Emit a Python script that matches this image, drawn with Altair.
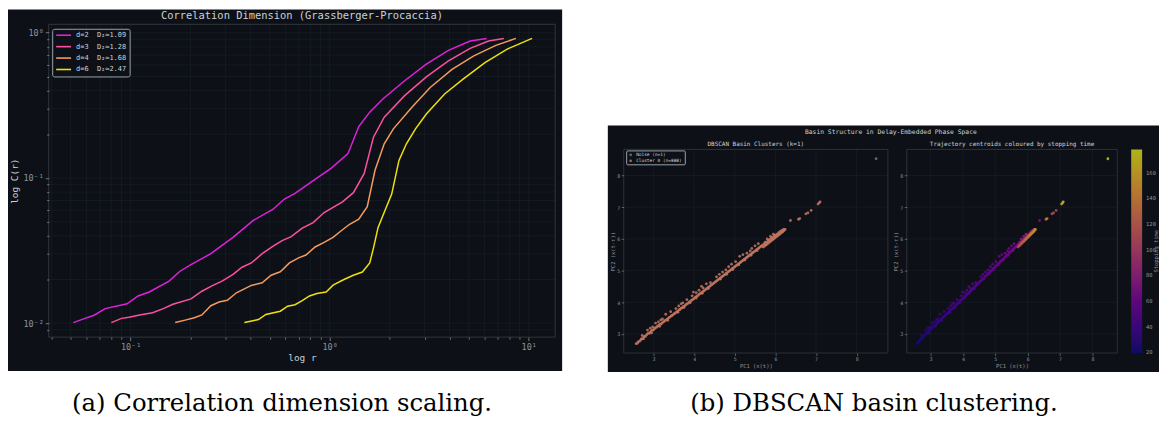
import altair as alt
import pandas as pd

# ---------------- panel (a): correlation sums ----------------
D2_R = [0.0515, 0.059, 0.0656, 0.0745, 0.096, 0.109, 0.124, 0.156, 0.177, 0.201, 0.253, 0.288, 0.327,
        0.412, 0.52, 0.59, 0.67, 0.81, 1.02, 1.236, 1.40, 1.59, 1.85, 2.38, 3.06, 3.95, 5.08, 6.15]
D2_C = [0.0101, 0.0108, 0.01135, 0.0126, 0.0136, 0.0154, 0.0164, 0.0195, 0.0228, 0.0253, 0.0301, 0.0344,
        0.039, 0.0509, 0.0609, 0.0713, 0.0783, 0.094, 0.117, 0.147, 0.226, 0.284, 0.35, 0.467, 0.607,
        0.757, 0.877, 0.914]
D3_R = [0.08, 0.09, 0.098, 0.111, 0.129, 0.146, 0.163, 0.201, 0.228, 0.259, 0.288, 0.327, 0.363, 0.404,
        0.458, 0.52, 0.577, 0.641, 0.728, 0.826, 0.938, 1.16, 1.316, 1.49, 1.66, 1.88, 2.38, 3.06, 3.95,
        5.08, 6.28, 7.5]
D3_C = [0.0101, 0.0108, 0.011, 0.0114, 0.0118, 0.0126, 0.0135, 0.0147, 0.0166, 0.0182, 0.0195, 0.0217,
        0.0243, 0.026, 0.0301, 0.034, 0.037, 0.0395, 0.0452, 0.0493, 0.0578, 0.0685, 0.0792, 0.107,
        0.191, 0.262, 0.369, 0.497, 0.64, 0.781, 0.877, 0.914]
D4_R = [0.1675, 0.188, 0.209, 0.228, 0.253, 0.278, 0.306, 0.34, 0.404, 0.458, 0.508, 0.565, 0.628, 0.698,
        0.76, 0.845, 0.938, 1.04, 1.135, 1.26, 1.40, 1.545, 1.69, 1.88, 2.09, 2.59, 3.2, 4.12, 5.3,
        6.84, 8.63]
D4_C = [0.0101, 0.0105, 0.0109, 0.0114, 0.0132, 0.014, 0.0144, 0.0162, 0.0182, 0.019, 0.0214, 0.0226,
        0.026, 0.0282, 0.0295, 0.0335, 0.036, 0.039, 0.043, 0.048, 0.052, 0.0635, 0.113, 0.172, 0.218,
        0.307, 0.42, 0.56, 0.693, 0.819, 0.914]
D6_R = [0.373, 0.412, 0.439, 0.478, 0.565, 0.615, 0.67, 0.728, 0.792, 0.863, 0.96, 1.04, 1.18, 1.315,
        1.46, 1.59, 1.66, 1.75, 1.885, 2.05, 2.23, 2.43, 2.70, 3.06, 3.78, 4.68, 6.03, 7.76, 10.4]
D6_C = [0.0101, 0.0104, 0.0106, 0.0115, 0.0121, 0.0131, 0.0134, 0.0143, 0.0154, 0.016, 0.0164, 0.0183,
        0.02, 0.0214, 0.0225, 0.026, 0.0329, 0.0455, 0.0585, 0.0775, 0.132, 0.172, 0.218, 0.276, 0.379,
        0.479, 0.623, 0.769, 0.914]
SERIES = ["d=2\u00a0\u00a0D₂≈1.09", "d=3\u00a0\u00a0D₂≈1.28", "d=4\u00a0\u00a0D₂≈1.68", "d=6\u00a0\u00a0D₂≈2.47"]
SERIES_COLORS = ["#e020dc", "#ff4fa0", "#f59b5e", "#f0e010"]
XA_MAJOR = [0.1, 1, 10]
XA_MINOR = [0.04, 0.05, 0.06, 0.07, 0.08, 0.09, 0.2, 0.3, 0.4, 0.5, 0.6, 0.7, 0.8, 0.9, 2, 3, 4, 5, 6, 7, 8, 9]
YA_MAJOR = [0.01, 0.1, 1]
YA_MINOR = [0.009, 0.02, 0.03, 0.04, 0.05, 0.06, 0.07, 0.08, 0.09, 0.2, 0.3, 0.4, 0.5, 0.6, 0.7, 0.8, 0.9]
XA_DOMAIN = [0.03877, 13.59]
YA_DOMAIN = [0.008021, 1.143]

# ---------------- panel (b): delay-embedded centroids (pc1, pc2, stopping time) ----------------
SEG_A = [(2.57, 2.69, 22), (2.60, 2.70, 23), (2.62, 2.75, 24), (2.65, 2.76, 23), (2.68, 2.80, 25),
         (2.70, 2.84, 24), (2.73, 2.85, 26), (2.76, 2.90, 25), (2.78, 2.93, 27), (2.80, 2.92, 26),
         (2.83, 2.97, 28), (2.85, 3.00, 27), (2.88, 3.03, 28), (2.90, 3.02, 27), (2.93, 3.07, 29),
         (2.95, 3.10, 28), (2.98, 3.12, 30), (3.00, 3.13, 29), (3.03, 3.17, 30), (3.05, 3.20, 31),
         (3.08, 3.21, 30), (3.10, 3.25, 31), (3.13, 3.26, 32), (3.15, 3.30, 31), (3.18, 3.31, 33),
         (3.20, 3.33, 32), (3.23, 3.37, 33), (3.25, 3.38, 34), (3.28, 3.42, 33), (3.30, 3.43, 34),
         (3.33, 3.46, 35), (3.35, 3.48, 34), (3.38, 3.51, 35), (3.40, 3.53, 36), (3.43, 3.56, 35),
         (3.45, 3.58, 36), (3.48, 3.60, 37)]
SEG_A_UP = [(2.72, 2.95, 28), (2.85, 3.12, 30), (2.98, 3.22, 31), (3.05, 3.34, 33), (3.12, 3.38, 32),
            (3.22, 3.47, 35), (3.30, 3.62, 36), (3.42, 3.70, 37), (2.92, 3.18, 30), (3.18, 3.44, 33)]
SEG_A_LOW = [(2.75, 2.84, 25), (2.95, 3.03, 28), (3.15, 3.24, 31), (3.35, 3.43, 34)]
SEG_B = [(3.50, 3.63, 37), (3.53, 3.65, 36), (3.55, 3.68, 38), (3.58, 3.70, 37), (3.60, 3.72, 38),
         (3.63, 3.76, 39), (3.65, 3.77, 38), (3.68, 3.81, 39), (3.70, 3.82, 40), (3.73, 3.86, 39),
         (3.75, 3.87, 40), (3.78, 3.90, 41), (3.80, 3.93, 40), (3.83, 3.95, 41), (3.85, 3.97, 42),
         (3.88, 4.01, 41), (3.90, 4.02, 42), (3.93, 4.06, 43), (3.95, 4.07, 42), (3.98, 4.10, 43),
         (4.00, 4.12, 44), (4.03, 4.16, 43), (4.05, 4.17, 44), (4.08, 4.20, 45), (4.10, 4.22, 44),
         (4.13, 4.26, 45), (4.15, 4.27, 46), (4.18, 4.30, 45), (4.20, 4.32, 46), (4.23, 4.35, 47),
         (4.25, 4.37, 46), (4.28, 4.40, 47), (4.30, 4.42, 48), (4.33, 4.45, 47), (4.35, 4.47, 48),
         (4.38, 4.50, 49), (4.40, 4.52, 48), (4.43, 4.55, 49), (4.45, 4.57, 50), (4.48, 4.60, 49)]
SEG_B_UP = [(3.55, 3.80, 40), (3.62, 3.88, 41), (3.72, 3.98, 42), (3.82, 4.08, 43), (3.95, 4.20, 45),
            (3.98, 4.32, 46), (4.05, 4.30, 46), (4.12, 4.38, 47), (4.22, 4.45, 48), (4.30, 4.58, 49),
            (4.40, 4.62, 50), (3.68, 3.95, 41), (4.18, 4.50, 47)]
SEG_B_LOW = [(3.60, 3.68, 38), (3.75, 3.83, 40), (3.90, 3.98, 42), (4.05, 4.13, 44), (4.20, 4.28, 46),
             (4.35, 4.43, 48)]
SEG_C = [(4.50, 4.62, 50), (4.53, 4.65, 49), (4.55, 4.67, 51), (4.58, 4.70, 50), (4.60, 4.72, 51),
         (4.63, 4.75, 52), (4.65, 4.77, 51), (4.68, 4.80, 52), (4.70, 4.82, 53), (4.73, 4.85, 52),
         (4.75, 4.87, 53), (4.78, 4.90, 54), (4.80, 4.92, 53), (4.83, 4.95, 54), (4.85, 4.97, 55),
         (4.88, 5.00, 54), (4.90, 5.02, 55), (4.93, 5.05, 56), (4.95, 5.07, 55), (4.98, 5.10, 56),
         (5.00, 5.12, 57), (5.03, 5.15, 56), (5.05, 5.17, 57), (5.08, 5.20, 58), (5.10, 5.22, 57),
         (5.13, 5.25, 58), (5.15, 5.27, 59), (5.18, 5.30, 58), (5.20, 5.32, 59), (5.23, 5.35, 60),
         (5.25, 5.37, 59), (5.28, 5.40, 60), (5.30, 5.42, 61), (5.33, 5.45, 60), (5.35, 5.47, 61),
         (5.38, 5.50, 62), (5.40, 5.52, 61), (5.43, 5.55, 62), (5.45, 5.57, 63), (5.48, 5.60, 62),
         (5.50, 5.62, 63), (5.53, 5.65, 64), (5.55, 5.67, 63), (5.58, 5.70, 64), (5.60, 5.72, 65),
         (5.63, 5.75, 64), (5.65, 5.77, 66), (5.68, 5.80, 65)]
SEG_C_UP = [(4.55, 4.80, 52), (4.62, 4.88, 53), (4.70, 4.95, 54), (4.85, 5.12, 56), (4.92, 5.20, 57),
            (5.02, 5.28, 58), (5.12, 5.45, 60), (5.20, 5.50, 60), (5.30, 5.55, 62), (5.42, 5.70, 63),
            (5.50, 5.78, 64), (5.58, 5.85, 66), (4.78, 5.02, 55), (5.38, 5.62, 62)]
SEG_C_LOW = [(4.65, 4.73, 51), (4.80, 4.88, 53), (4.95, 5.03, 55), (5.10, 5.18, 57), (5.25, 5.33, 59),
             (5.40, 5.48, 61), (5.55, 5.63, 63)]
SEG_D_UP = [(5.72, 5.85, 70), (5.75, 5.90, 72), (5.78, 5.88, 68), (5.82, 5.95, 74), (5.86, 5.98, 72),
            (5.90, 6.03, 76), (5.93, 6.05, 74), (5.97, 6.10, 78), (6.00, 6.12, 80), (6.04, 6.15, 78),
            (6.08, 6.20, 82), (6.12, 6.24, 85), (6.16, 6.27, 88), (6.20, 6.30, 92), (5.80, 6.00, 75),
            (5.88, 6.08, 77), (5.95, 6.15, 80)]
SEG_D_MID = [(5.74, 5.82, 95), (5.80, 5.90, 98), (5.86, 5.94, 100), (5.92, 6.00, 104), (5.98, 6.06, 108),
             (6.04, 6.12, 112), (6.10, 6.18, 116), (6.16, 6.24, 120), (6.22, 6.30, 125)]
SEG_D_LINE = [(5.70, 5.74, 105), (5.73, 5.77, 110), (5.76, 5.80, 112), (5.79, 5.83, 115), (5.82, 5.86, 118),
              (5.85, 5.89, 120), (5.88, 5.92, 122), (5.91, 5.95, 125), (5.94, 5.98, 128), (5.97, 6.01, 130),
              (6.00, 6.04, 133), (6.03, 6.07, 135), (6.06, 6.10, 138), (6.09, 6.13, 140), (6.12, 6.16, 142),
              (6.15, 6.19, 145), (6.18, 6.22, 147), (6.21, 6.26, 150), (6.24, 6.30, 152)]
SEG_FAR = [(6.37, 6.58, 70), (6.57, 6.62, 140), (6.60, 6.64, 138), (6.75, 6.79, 112), (6.80, 6.82, 110),
           (6.88, 6.90, 108), (7.05, 7.10, 158), (7.08, 7.14, 162), (7.10, 7.17, 165)]
NOISE = [(8.48, 8.53, 176)]
CLUSTER_LABEL = "Cluster 0 (n=888)"
NOISE_LABEL = "Noise (n=1)"
B_TICKS = [3, 4, 5, 6, 7, 8]
XB_DOMAIN = [2.265, 8.77]
YB_DOMAIN = [2.395, 8.825]
STOP_DOMAIN = [19.6, 178]
PLASMA_MUTED = ["#0d0a6e", "#3e0583", "#650688", "#871f79", "#a23b63", "#b6584d", "#c47837", "#c89d24", "#bec61f"]

# ---------------- style / layout ----------------
W, H = 1159, 408
DARK = "#0d1117"
FRAME = "#3a3f46"
GRID = "#1a2029"
TICK = "#8b949e"
LABEL = "#8b949e"
TITLE = "#c9d1d9"
MONO = "DejaVu Sans Mono"
SERIF = "DejaVu Serif"
A_BOX = (0, 558, 0, 364)
A_PLOT = (41, 551, 15, 330)
B_BOX = (604, 1159, 117, 365)
B1_PLOT = (620, 886, 141, 346)
B2_PLOT = (905, 1117, 141, 346)

# ---------------- tables ----------------
rowsA = []
for lab, rs, cs in zip(SERIES, [D2_R, D3_R, D4_R, D6_R], [D2_C, D3_C, D4_C, D6_C]):
    for r, c in zip(rs, cs):
        rowsA.append({"r": r, "C": c, "series": lab})
dfA = pd.DataFrame(rowsA)

cluster_pts = (SEG_A + SEG_A_UP + SEG_A_LOW + SEG_B + SEG_B_UP + SEG_B_LOW + SEG_C + SEG_C_UP +
               SEG_C_LOW + SEG_D_UP + SEG_D_MID + SEG_D_LINE + SEG_FAR)
dfB = pd.DataFrame(cluster_pts + NOISE, columns=["pc1", "pc2", "stop"])
dfB["cluster"] = [CLUSTER_LABEL] * len(cluster_pts) + [NOISE_LABEL] * len(NOISE)

ONE = pd.DataFrame({"k": [0]})

xa = alt.Scale(type="log", domain=XA_DOMAIN, range=[A_PLOT[0], A_PLOT[1]], nice=False)
ya = alt.Scale(type="log", domain=YA_DOMAIN, range=[A_PLOT[3], A_PLOT[2]], nice=False)
xb1 = alt.Scale(domain=XB_DOMAIN, range=[B1_PLOT[0], B1_PLOT[1]], nice=False, zero=False)
xb2 = alt.Scale(domain=XB_DOMAIN, range=[B2_PLOT[0], B2_PLOT[1]], nice=False, zero=False)
yb = alt.Scale(domain=YB_DOMAIN, range=[B1_PLOT[3], B1_PLOT[2]], nice=False, zero=False)

MAJOR_TEST = "indexof([0.01, 0.1, 1, 10], datum.value) >= 0"
LX = "datum.value == 0.1 ? '10⁻¹' : datum.value == 1 ? '10⁰' : datum.value == 10 ? '10¹' : ''"
LY = "datum.value == 1 ? '10⁰' : datum.value == 0.1 ? '10⁻¹' : datum.value == 0.01 ? '10⁻²' : ''"


def axis_log(orient, offset, values, expr, title, tpad):
    return alt.Axis(orient=orient, offset=offset, values=values, labelExpr=expr,
                    tickSize={"condition": {"test": MAJOR_TEST, "value": 3.5}, "value": 2},
                    tickColor=TICK, tickWidth=0.8, labelColor=LABEL, labelFont=MONO, labelFontSize=8.5,
                    labelPadding=2, labelOverlap=False, labelFlush=False, domain=False, grid=False,
                    title=title, titleFont=MONO, titleFontSize=9.5, titleColor=TITLE,
                    titleFontWeight="normal", titlePadding=tpad, zindex=1)


def axis_lin(orient, offset, title):
    return alt.Axis(orient=orient, offset=offset, values=B_TICKS, format="d", tickSize=2.5,
                    tickColor=TICK, tickWidth=0.6, labelColor=LABEL, labelFont=MONO, labelFontSize=5,
                    labelPadding=1.5, labelFlush=False, labelOverlap=False, domain=False, grid=False,
                    title=title, titleFont=MONO, titleFontSize=5.5, titleColor=LABEL,
                    titleFontWeight="normal", titlePadding=1.5, zindex=1)


def rect_px(box, **kw):
    x0, x1, y0, y1 = box
    return alt.Chart(ONE).mark_rect(**kw).encode(
        x=alt.value(x0), x2=alt.value(x1), y=alt.value(y0), y2=alt.value(y1))


def text_px(s, x, y, size, color, font=MONO, angle=0):
    return alt.Chart(ONE).mark_text(text=s, font=font, fontSize=size, color=color, angle=angle,
                                    align="center", baseline="middle").encode(
        x=alt.value(x), y=alt.value(y))


def vgrid(values, scale, plot):
    return alt.Chart(pd.DataFrame({"v": values})).mark_rule(color=GRID, strokeWidth=0.6).encode(
        x=alt.X("v:Q", scale=scale, axis=None), y=alt.value(plot[2]), y2=alt.value(plot[3]))


def hgrid(values, scale, plot):
    return alt.Chart(pd.DataFrame({"v": values})).mark_rule(color=GRID, strokeWidth=0.6).encode(
        y=alt.Y("v:Q", scale=scale, axis=None), x=alt.value(plot[0]), x2=alt.value(plot[1]))


bgA = rect_px(A_BOX, color=DARK)
bgB = rect_px(B_BOX, color=DARK)

linesA = alt.Chart(dfA).mark_line(strokeWidth=1.5).encode(
    x=alt.X("r:Q", scale=xa, axis=axis_log("bottom", A_PLOT[3] - H, XA_MAJOR + XA_MINOR, LX, "log r", 2)),
    y=alt.Y("C:Q", scale=ya, axis=axis_log("left", -A_PLOT[0], YA_MAJOR + YA_MINOR, LY, "log C(r)", 3)),
    color=alt.Color("series:N", scale=alt.Scale(domain=SERIES, range=SERIES_COLORS),
                    legend=alt.Legend(orient="none", legendX=44.5, legendY=19.5, direction="vertical",
                                      title=None, fillColor=DARK, strokeColor="#9aa1a9", padding=3,
                                      cornerRadius=2, labelFont=MONO, labelFontSize=7, labelColor=TITLE,
                                      symbolType="M-1,0H5", symbolSize=25, symbolStrokeWidth=1.6,
                                      labelOffset=14, rowPadding=3.5, zindex=1)),
)

scatB1 = alt.Chart(dfB).mark_circle(size=8, opacity=0.85).encode(
    x=alt.X("pc1:Q", scale=xb1, axis=axis_lin("bottom", B1_PLOT[3] - H, "PC1 (x(t))")),
    y=alt.Y("pc2:Q", scale=yb, axis=axis_lin("left", -B1_PLOT[0], "PC2 (x(t-τ))")),
    color=alt.Color("cluster:N", scale=alt.Scale(domain=[NOISE_LABEL, CLUSTER_LABEL],
                                                 range=["#6e7681", "#c47560"]),
                    legend=alt.Legend(orient="none", legendX=622.5, legendY=142, direction="vertical",
                                      title=None, fillColor=DARK, strokeColor="#9aa1a9", padding=2,
                                      cornerRadius=1, labelFont=MONO, labelFontSize=4.5, labelColor=TITLE,
                                      symbolType="circle", symbolSize=7, labelOffset=3, rowPadding=1,
                                      zindex=1)),
)

scatB2 = alt.Chart(dfB).mark_circle(size=8, opacity=0.9).encode(
    x=alt.X("pc1:Q", scale=xb2, axis=axis_lin("bottom", B2_PLOT[3] - H, "PC1 (x(t))")),
    y=alt.Y("pc2:Q", scale=yb, axis=axis_lin("left", -B2_PLOT[0], "PC2 (x(t-τ))")),
    color=alt.Color("stop:Q", scale=alt.Scale(domain=STOP_DOMAIN, range=PLASMA_MUTED, nice=False, zero=False),
                    legend=alt.Legend(type="gradient", orient="none", legendX=1131, legendY=141,
                                      direction="vertical", gradientLength=205, gradientThickness=11,
                                      gradientStrokeWidth=0, values=[20, 40, 60, 80, 100, 120, 140, 160],
                                      title=None, padding=0, labelFont=MONO, labelFontSize=5.5,
                                      labelColor=LABEL, labelOffset=4, labelBaseline="middle",
                                      labelOverlap=False, zindex=1)),
)

layers = [
    bgA, bgB,
    vgrid(XA_MAJOR + XA_MINOR, xa, A_PLOT), hgrid(YA_MAJOR + YA_MINOR, ya, A_PLOT),
    vgrid(B_TICKS, xb1, B1_PLOT), hgrid(B_TICKS, yb, B1_PLOT),
    vgrid(B_TICKS, xb2, B2_PLOT), hgrid(B_TICKS, yb, B2_PLOT),
    linesA, scatB1, scatB2,
    rect_px(A_PLOT, fillOpacity=0, stroke=FRAME, strokeWidth=0.8),
    rect_px(B1_PLOT, fillOpacity=0, stroke=FRAME, strokeWidth=0.7),
    rect_px(B2_PLOT, fillOpacity=0, stroke=FRAME, strokeWidth=0.7),
    text_px("Correlation Dimension (Grassberger-Procaccia)", 296, 6.5, 10.5, TITLE),
    text_px("Basin Structure in Delay-Embedded Phase Space", 889, 123.5, 6.4, TITLE),
    text_px("DBSCAN Basin Clusters (k=1)", 753, 135.7, 6, TITLE),
    text_px("Trajectory centroids coloured by stopping time", 1011, 135.7, 6, TITLE),
    text_px("Stopping time", 1155.5, 243.5, 5.5, LABEL, angle=270),
    text_px("(a) Correlation dimension scaling.", 276, 397, 24.5, "#000000", font=SERIF),
    text_px("(b) DBSCAN basin clustering.", 872, 397, 24.5, "#000000", font=SERIF),
]

chart = alt.layer(*layers).resolve_scale(
    x="independent", y="independent", color="independent"
).properties(
    width=W, height=H, padding=0, background="white",
    autosize=alt.AutoSizeParams(type="none"),
).configure_view(strokeWidth=0)

chart.save("out.html", embed_options={"renderer": "svg", "actions": False})
